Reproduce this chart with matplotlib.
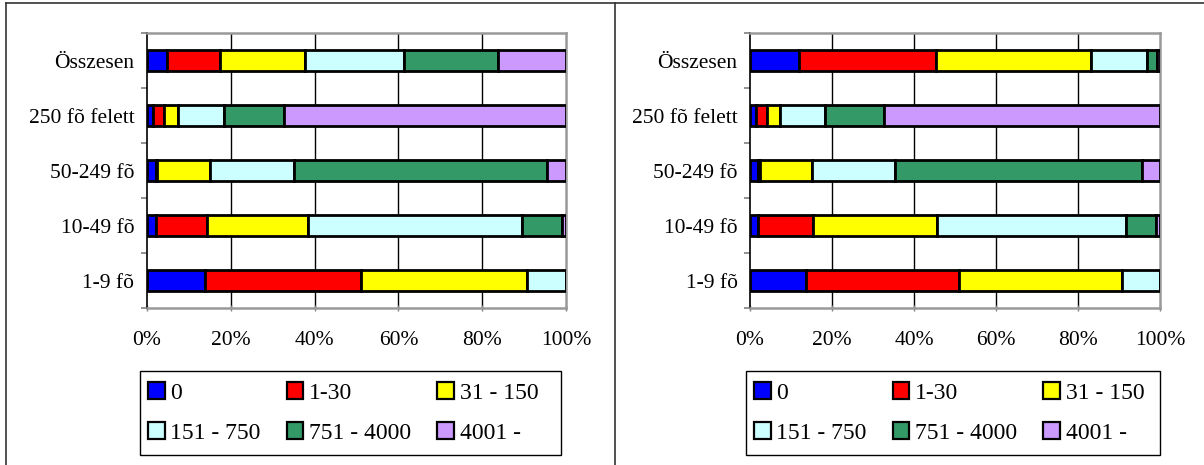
import matplotlib
matplotlib.use("Agg")
import matplotlib.pyplot as plt
from matplotlib.patches import Patch, Rectangle
from matplotlib.lines import Line2D
import numpy as np

plt.rcParams['font.family'] = ['Liberation Serif', 'DejaVu Serif']

categories = ["1-9 fõ", "10-49 fõ", "50-249 fõ", "250 fõ felett", "Összesen"]
series_labels = ["0", "1-30", "31 - 150", "151 - 750", "751 - 4000", "4001 -"]
colors = ["#0000FF", "#FF0000", "#FFFF00", "#CCFFFF", "#339966", "#CC99FF"]

# Left chart (%), rows follow categories order
left_0 = [13.8, 2.1, 2.2, 1.4, 4.8]
left_1_30 = [37.2, 12.3, 0.3, 2.7, 12.7]
left_31_150 = [39.7, 24.1, 12.6, 3.2, 20.1]
left_151_750 = [9.3, 51.0, 20.0, 11.1, 23.7]
left_751_4000 = [0.0, 9.5, 60.4, 14.4, 22.4]
left_4001 = [0.0, 1.0, 4.5, 67.2, 16.3]

# Right chart (%)
right_0 = [13.7, 2.0, 2.0, 1.5, 11.9]
right_1_30 = [37.3, 13.4, 0.4, 2.6, 33.4]
right_31_150 = [39.7, 30.2, 12.6, 3.1, 37.8]
right_151_750 = [9.3, 46.1, 20.3, 11.1, 13.8]
right_751_4000 = [0.0, 7.4, 60.2, 14.5, 2.4]
right_4001 = [0.0, 0.9, 4.5, 67.2, 0.7]

left_data = [left_0, left_1_30, left_31_150, left_151_750, left_751_4000, left_4001]
right_data = [right_0, right_1_30, right_31_150, right_151_750, right_751_4000, right_4001]

xticks = [0, 20, 40, 60, 80, 100]
xticklabels = ["0%", "20%", "40%", "60%", "80%", "100%"]

W, H = 1204, 465
fig = plt.figure(figsize=(W / 100, H / 100), dpi=100)

FS = 15.5
LFS = 17

def px_rect(x0, y0, x1, y1):
    return [x0 / W, (H - y1) / H, (x1 - x0) / W, (y1 - y0) / H]

def draw(ax, data):
    y = np.arange(len(categories))
    left = np.zeros(len(categories))
    for vals, col in zip(data, colors):
        v = np.array(vals, dtype=float)
        ax.barh(y, v, left=left, height=0.38, color=col, edgecolor='black',
                linewidth=2.0, zorder=3)
        left = left + v
    ax.set_xlim(0, 100)
    ax.set_ylim(-0.5, len(categories) - 0.5)
    ax.set_xticks(xticks)
    ax.set_xticklabels(xticklabels, fontsize=FS)
    ax.set_yticks(y)
    ax.set_yticklabels(categories, fontsize=FS)
    ax.set_yticks(np.arange(len(categories) + 1) - 0.5, minor=True)
    ax.tick_params(axis='y', which='major', length=0, pad=9)
    ax.tick_params(axis='y', which='minor', length=4, width=1.2, color='#808080', direction='out')
    ax.tick_params(axis='x', which='major', length=5, width=1, color='#808080', direction='inout', pad=14)
    for xv in xticks[1:-1]:
        ax.axvline(xv, color='black', linewidth=1, zorder=1)
    ax.spines['left'].set_color('black')
    ax.spines['left'].set_linewidth(1.2)
    for s in ['top', 'right', 'bottom']:
        ax.spines[s].set_color('#999999')
        ax.spines[s].set_linewidth(1.8)

ax1 = fig.add_axes(px_rect(147, 33, 566, 308))
draw(ax1, left_data)
ax2 = fig.add_axes(px_rect(750, 33, 1160, 308))
draw(ax2, right_data)

handles = [Patch(facecolor=c, edgecolor='black', linewidth=1.6) for c in colors]
order = [0, 3, 1, 4, 2, 5]  # row-wise fill for 3 columns
h_ord = [handles[i] for i in order]
l_ord = [series_labels[i] for i in order]
for (x0, x1) in [(140, 561), (746, 1160)]:
    y0, y1 = 371, 455
    fig.add_artist(Rectangle((x0 / W, (H - y1) / H), (x1 - x0) / W, (y1 - y0) / H,
                             transform=fig.transFigure, facecolor='white',
                             edgecolor='black', linewidth=1.0, zorder=1))
    leg = fig.legend(h_ord, l_ord, loc='center left',
                     bbox_to_anchor=((x0 + 8) / W, (H - (y0 + y1) / 2) / H),
                     ncol=3, fontsize=LFS, frameon=False,
                     borderaxespad=0, borderpad=0, handlelength=0.7, handleheight=0.7,
                     handletextpad=0.25, columnspacing=1.1, labelspacing=0.8)
    leg.set_zorder(2)

# outer frame lines
fig.add_artist(Line2D([6 / W, 1], [1 - 3 / H, 1 - 3 / H], transform=fig.transFigure, color='#333333', linewidth=1.2))
fig.add_artist(Line2D([6 / W, 6 / W], [0, 1 - 3 / H], transform=fig.transFigure, color='#333333', linewidth=1.2))
fig.add_artist(Line2D([615 / W, 615 / W], [0, 1 - 3 / H], transform=fig.transFigure, color='#333333', linewidth=1.2))

fig.savefig("out.png", dpi=100)
